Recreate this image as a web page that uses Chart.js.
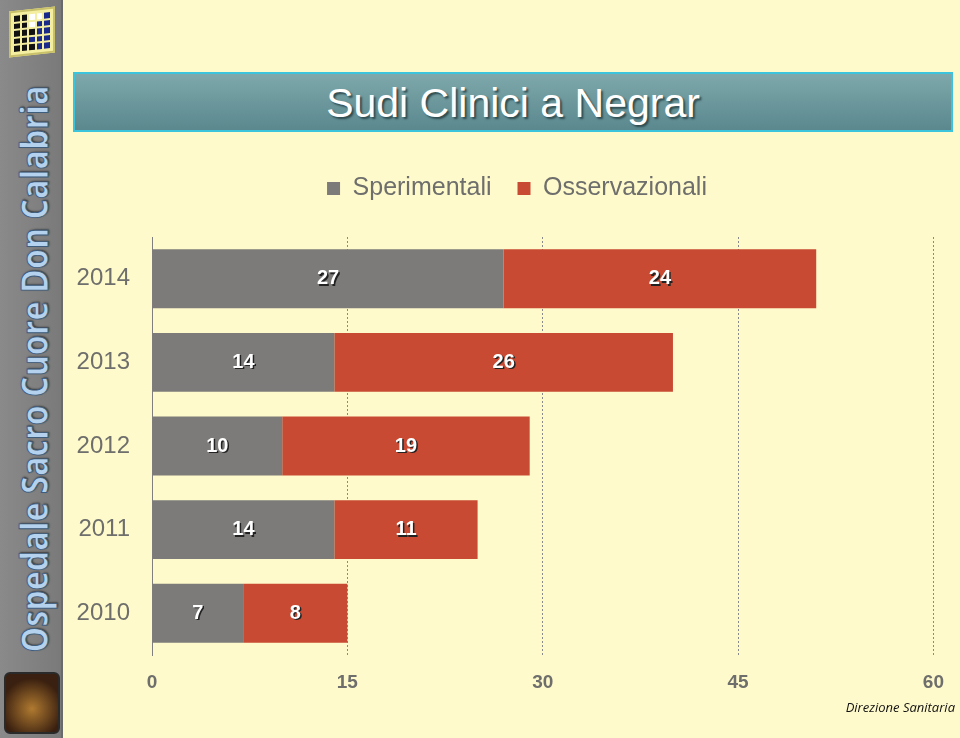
<!DOCTYPE html>
<html>
<head>
<meta charset="utf-8">
<script src="https://cdn.jsdelivr.net/npm/chart.js@4/dist/chart.umd.min.js"></script>
<style>
  html, body { margin: 0; padding: 0; }
  body { width: 960px; height: 738px; background: #fffacb; position: relative; overflow: hidden; font-family: "Liberation Sans", Arial, sans-serif; }
  #banda { position: absolute; left: 0; top: 0; width: 61px; height: 738px; background: linear-gradient(90deg, #8a8a8a, #7a7a7a); border-right: 2px solid #6a6a6a; }
  #banda-testo { position: absolute; left: 33px; top: 369px; transform: translate(-50%, -50%) rotate(-90deg) scaleX(0.85); white-space: nowrap;
    font-family: "Open Sans", Lato, sans-serif; font-weight: 700; font-size: 38px; color: #b4d2ee;
    -webkit-text-stroke: 1px #3e5c7c; text-shadow: 1px 1px 2px #333; }
  #logo1 { position: absolute; left: 9px; top: 9px; width: 46px; height: 46px; background: #f4eea0; border: 2px solid #c9c06a; transform: skewY(-6deg);
    display: grid; grid-template-columns: repeat(5, 1fr); gap: 2px; padding: 3px; box-sizing: border-box; }
  #logo1 span { background: #111; }
  #logo1 span.b { background: #1a2a8a; }
  #logo1 span.w { background: #fff; }
  #logo2 { position: absolute; left: 4px; top: 672px; width: 56px; height: 62px; border-radius: 6px; background: radial-gradient(circle at 50% 60%, #b07a30, #3a2010 70%); border: 2px solid #2a2a2a; box-sizing: border-box; }
  #titolo { position: absolute; left: 73px; top: 72px; width: 876px; height: 56px; border: 2px solid #3cc4dc;
    background: linear-gradient(180deg, #7ea8ab, #5a888e); color: #fff; font-size: 41px; text-align: center; line-height: 58px;
    text-shadow: 2px 2px 2px #2e4a4e; }
  #chart-box { position: absolute; left: 62px; top: 150px; width: 898px; height: 560px; }
  #firma { position: absolute; right: 5px; top: 698px; font-family: "Open Sans", sans-serif; font-style: italic; font-size: 13px; color: #111; }
</style>
</head>
<body>
<div id="banda"><div id="banda-testo">Ospedale Sacro Cuore Don Calabria</div></div>
<div id="logo1">
  <span></span><span></span><span class="w"></span><span class="w"></span><span class="b"></span>
  <span></span><span></span><span class="w"></span><span class="b"></span><span class="b"></span>
  <span></span><span></span><span></span><span class="b"></span><span class="b"></span>
  <span></span><span></span><span class="b"></span><span class="b"></span><span class="b"></span>
  <span></span><span></span><span></span><span class="b"></span><span class="b"></span>
</div>
<div id="logo2"></div>
<div id="titolo">Sudi Clinici a Negrar</div>
<div id="chart-box"><canvas id="grafico"></canvas></div>
<div id="firma">Direzione Sanitaria</div>

<script>
// -- dati --
const anni = ['2014', '2013', '2012', '2011', '2010'];
const sperimentali = [27, 14, 10, 14, 7];
const osservazionali = [24, 26, 19, 11, 8];
const tickX = [0, 15, 30, 45, 60];

const grigio = '#7c7b79';
const rosso = '#c94a32';
const testoGrigio = '#6e6e6c';

// etichette bianche dentro le barre
const etichette = {
  id: 'etichette',
  afterDatasetsDraw(chart) {
    const ctx = chart.ctx;
    ctx.save();
    ctx.font = 'bold 20px "Liberation Sans", Arial, sans-serif';
    ctx.textAlign = 'center';
    ctx.textBaseline = 'middle';
    chart.data.datasets.forEach((ds, i) => {
      chart.getDatasetMeta(i).data.forEach((bar, j) => {
        const cx = (bar.x + bar.base) / 2;
        ctx.fillStyle = '#222';
        ctx.fillText(ds.data[j], cx + 1.5, bar.y + 1.5);
        ctx.fillStyle = '#fff';
        ctx.fillText(ds.data[j], cx, bar.y);
      });
    });
    ctx.restore();
  }
};

// spazio extra sotto la legenda, e legenda un po' a destra
const spazioLegenda = {
  id: 'spazioLegenda',
  beforeInit(chart) {
    const fit = chart.legend.fit;
    chart.legend.fit = function () {
      fit.bind(chart.legend)();
      this.height += 26;
    };
  },
  afterLayout(chart) {
    chart.legend.left += 19;
    chart.legend.right += 19;
  }
};

new Chart(document.getElementById('grafico'), {
  type: 'bar',
  data: {
    labels: anni,
    datasets: [
      { label: 'Sperimentali', data: sperimentali, backgroundColor: grigio },
      { label: 'Osservazionali', data: osservazionali, backgroundColor: rosso }
    ]
  },
  options: {
    indexAxis: 'y',
    responsive: true,
    maintainAspectRatio: false,
    animation: false,
    categoryPercentage: 0.705,
    barPercentage: 1,
    layout: { padding: { top: 0, right: 26, left: 0, bottom: 0 } },
    plugins: {
      tooltip: { enabled: false },
      legend: {
        position: 'top',
        labels: {
          color: testoGrigio,
          font: { size: 25, family: '"Liberation Sans", Arial, sans-serif' },
          boxWidth: 13, boxHeight: 13, padding: 26
        }
      }
    },
    scales: {
      x: {
        stacked: true,
        min: 0, max: 60,
        afterBuildTicks: s => { s.ticks = tickX.map(v => ({ value: v })); },
        afterFit: s => { s.height = 55; },
        grid: { color: '#8a8a8a', lineWidth: 1, drawTicks: false },
        border: { display: false, dash: [2, 2] },
        ticks: { color: testoGrigio, padding: 16, font: { size: 19, weight: 'bold', family: '"Liberation Sans", Arial, sans-serif' } }
      },
      y: {
        stacked: true,
        afterFit: s => { s.width = 90; },
        grid: { display: false, drawTicks: false },
        border: { display: true, color: '#7f7f7f', width: 1 },
        ticks: { color: testoGrigio, padding: 22, font: { size: 24, family: '"Liberation Sans", Arial, sans-serif' } }
      }
    }
  },
  plugins: [etichette, spazioLegenda]
});
</script>
</body>
</html>
